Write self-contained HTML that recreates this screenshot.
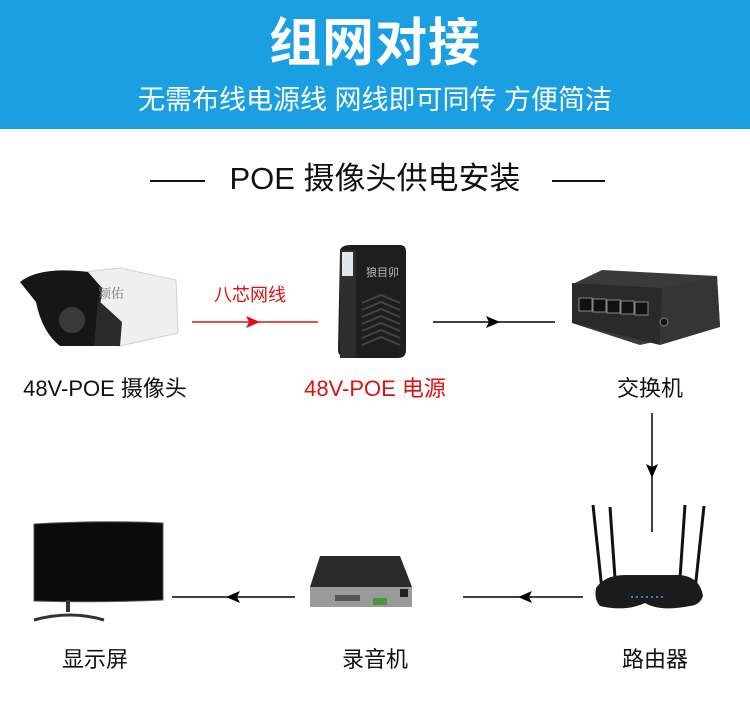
<!DOCTYPE html>
<html><head><meta charset="utf-8"><style>
body{margin:0;width:750px;height:708px;background:#fff;position:relative;overflow:hidden;font-family:"Liberation Sans","Noto Sans CJK SC",sans-serif}
.hdr{position:absolute;left:0;top:0;width:750px;height:129px;background:#1a9fe2}
.t{position:absolute;white-space:nowrap;text-align:center}
</style></head><body>
<div class="hdr"></div>
<div class="t" style="left:0;width:750px;top:10px;font-size:52px;font-weight:bold;color:#fff;letter-spacing:1px;line-height:68px">组网对接</div>
<div class="t" style="left:0;width:750px;top:83px;font-size:27px;color:#fff;line-height:34px">无需布线电源线 网线即可同传 方便简洁</div>
<div class="t" style="left:0;width:750px;top:158px;font-size:31px;color:#111;line-height:42px">POE 摄像头供电安装</div>

<div class="t" style="left:10px;width:190px;top:374px;font-size:22px;color:#111;line-height:30px">48V-POE 摄像头</div>
<div class="t" style="left:280px;width:190px;top:374px;font-size:22px;color:#e01010;line-height:30px">48V-POE 电源</div>
<div class="t" style="left:595px;width:110px;top:374px;font-size:22px;color:#111;line-height:30px">交换机</div>
<div class="t" style="left:190px;width:120px;top:282px;font-size:18px;color:#e01010;line-height:26px">八芯网线</div>
<div class="t" style="left:40px;width:110px;top:645px;font-size:22px;color:#111;line-height:30px">显示屏</div>
<div class="t" style="left:320px;width:110px;top:645px;font-size:22px;color:#111;line-height:30px">录音机</div>
<div class="t" style="left:600px;width:110px;top:645px;font-size:22px;color:#111;line-height:30px">路由器</div>

<svg width="750" height="708" style="position:absolute;left:0;top:0">
<line x1="150" y1="181" x2="205" y2="181" stroke="#111" stroke-width="2"/>
<line x1="552" y1="181" x2="605" y2="181" stroke="#111" stroke-width="2"/>
<!-- connectors -->
<line x1="192" y1="322" x2="318" y2="322" stroke="#e01010" stroke-width="1.5"/>
<polygon points="260,322 246,316 249,322 246,328" fill="#e01010"/>
<line x1="433" y1="322" x2="555" y2="322" stroke="#000" stroke-width="1.5"/>
<polygon points="500,322 486,316 489,322 486,328" fill="#000"/>
<line x1="652" y1="413" x2="652" y2="532" stroke="#000" stroke-width="1.5"/>
<polygon points="652,478 646,464 652,467 658,464" fill="#000"/>
<line x1="463" y1="597" x2="583" y2="597" stroke="#000" stroke-width="1.5"/>
<polygon points="518,597 532,591 529,597 532,603" fill="#000"/>
<line x1="172" y1="597" x2="295" y2="597" stroke="#000" stroke-width="1.5"/>
<polygon points="226,597 240,591 237,597 240,603" fill="#000"/>

<!-- camera -->
<path d="M45,276 L120,268 L176,280 L178,333 L120,346 L60,341 Z" fill="#efefef" stroke="#d0d0d0"/>
<path d="M20,282 Q40,266 88,272 L102,288 L96,346 L60,346 Q42,332 36,302 Z" fill="#161616"/>
<path d="M98,300 L122,322 L120,346 L94,346 Z" fill="#2a2a2a"/>
<circle cx="72" cy="320" r="13" fill="#3a3a3a"/>
<text x="98" y="298" font-size="13" fill="#777" font-family="Noto Serif CJK SC,serif">颖佑</text>

<!-- POE supply -->
<path d="M340,250 Q342,245 350,245 L400,245 Q406,245 406,252 L406,350 Q406,358 398,358 L350,358 Q338,358 338,350 Z" fill="#1e1e1e"/>
<rect x="340" y="250" width="16" height="108" fill="#2e2e2e"/>
<rect x="342" y="252" width="11" height="24" fill="#dfe8ea"/>
<text x="366" y="276" font-size="11" fill="#bbb" font-family="Noto Sans CJK SC,sans-serif">狼目卯</text>
<g stroke="#444" stroke-width="2" fill="none">
<path d="M362,303 L381,295 L400,303"/><path d="M362,310 L381,302 L400,310"/><path d="M362,317 L381,309 L400,317"/><path d="M362,324 L381,316 L400,324"/><path d="M362,331 L381,323 L400,331"/><path d="M362,338 L381,330 L400,338"/><path d="M362,345 L381,337 L400,345"/>
</g>

<!-- switch -->
<path d="M575,283 L602,270 L717,276 L720,327 L640,345 L572,323 Z" fill="#3a3a3a"/>
<path d="M572,283 L662,288 L660,345 L572,323 Z" fill="#2a2a2a"/>
<path d="M662,288 L717,276 L720,327 L660,345 Z" fill="#353535"/>
<g fill="#111" stroke="#888" stroke-width="1">
<rect x="579" y="298" width="13" height="13"/><rect x="593" y="299" width="13" height="13"/><rect x="607" y="300" width="13" height="13"/><rect x="621" y="301" width="13" height="13"/><rect x="635" y="302" width="13" height="13"/>
</g>
<circle cx="664" cy="322" r="4" fill="#111" stroke="#888"/>

<!-- monitor -->
<path d="M34,524 Q100,520 163,523 L163,600 Q100,603 34,601 Z" fill="#0b0b0b" stroke="#555"/>
<rect x="66" y="600" width="4" height="12" fill="#333"/>
<path d="M34,620 Q70,610 104,620" stroke="#333" stroke-width="3" fill="none"/>

<!-- NVR -->
<path d="M320,556 L400,556 L412,587 L310,587 Z" fill="#2a2a2a"/>
<rect x="310" y="587" width="102" height="20" fill="#9a9a9a"/>
<rect x="400" y="589" width="8" height="8" fill="#222"/>
<rect x="335" y="595" width="25" height="6" fill="#555"/>
<rect x="373" y="598" width="14" height="7" fill="#4a9a3a"/>

<!-- router -->
<g stroke="#111" stroke-width="3">
<line x1="593" y1="505" x2="602" y2="590"/><line x1="610" y1="507" x2="615" y2="578"/><line x1="685" y1="505" x2="680" y2="578"/><line x1="704" y1="506" x2="695" y2="590"/>
</g>
<path d="M596,588 Q605,575 625,575 L680,575 Q700,577 703,596 Q700,605 690,606 Q660,612 645,603 Q625,612 600,606 Q594,600 596,588 Z" fill="#1b1b1b"/>
<g fill="#3a7bd5"><rect x="631" y="596" width="2" height="2"/><rect x="636" y="596" width="2" height="2"/><rect x="641" y="596" width="2" height="2"/><rect x="646" y="596" width="2" height="2"/><rect x="651" y="596" width="2" height="2"/><rect x="656" y="596" width="2" height="2"/><rect x="661" y="596" width="2" height="2"/></g>
</svg>
</body></html>
